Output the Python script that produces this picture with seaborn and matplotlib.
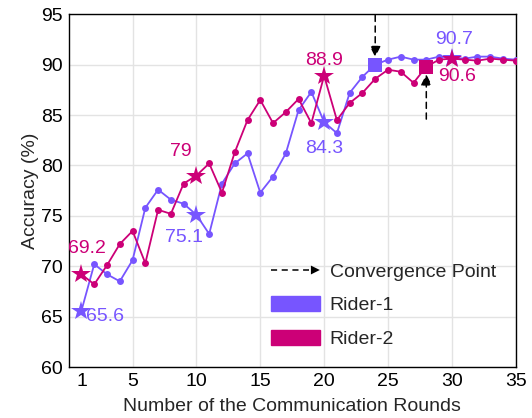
import numpy as np
import pandas as pd
import matplotlib
matplotlib.use("Agg")
import matplotlib.pyplot as plt
import seaborn as sns
from matplotlib.patches import Patch, FancyArrowPatch
from matplotlib.lines import Line2D
from matplotlib.legend_handler import HandlerBase

# Accuracy per communication round
rounds = list(range(1, 36))
rider1 = [65.6, 70.2, 69.2, 68.5, 70.6, 75.8, 77.6, 76.6, 76.2, 75.1,
          73.2, 78.2, 80.2, 81.2, 77.3, 78.9, 81.2, 85.5, 87.3, 84.3,
          83.2, 87.2, 88.8, 90.0, 90.5, 90.8, 90.5, 90.5, 90.8, 90.7,
          90.6, 90.8, 90.8, 90.6, 90.5]
rider2 = [69.2, 68.2, 70.1, 72.2, 73.5, 70.3, 75.6, 75.2, 78.2, 79.0,
          80.2, 77.3, 81.3, 84.5, 86.5, 84.2, 85.3, 86.6, 84.2, 88.9,
          84.5, 86.2, 87.2, 88.6, 89.5, 89.3, 88.2, 89.8, 90.5, 90.6,
          90.5, 90.4, 90.6, 90.5, 90.4]
series_names = ["Rider-1", "Rider-2"]
highlight_rounds = [1, 10, 20, 30]
convergence_rounds = [24, 28]
xtick_values = [1, 5, 10, 15, 20, 25, 30, 35]
ytick_values = [60, 65, 70, 75, 80, 85, 90, 95]

PURPLE = "#7755FF"
MAGENTA = "#CC0077"
palette = {"Rider-1": PURPLE, "Rider-2": MAGENTA}

sns.set_style("white")
plt.rcParams["font.family"] = ["Liberation Sans", "DejaVu Sans"]

df = pd.DataFrame({
    "round": rounds * 2,
    "acc": rider1 + rider2,
    "rider": [series_names[0]] * len(rounds) + [series_names[1]] * len(rounds),
})

fig = plt.figure(figsize=(5.32, 4.18), dpi=100)
ax = fig.add_axes([68.7 / 532, 1 - 367 / 418, (515.7 - 68.7) / 532, (367 - 14.3) / 418])

sns.lineplot(data=df, x="round", y="acc", hue="rider", palette=palette,
             marker="o", markersize=5, markeredgewidth=0, linewidth=1.3,
             legend=False, ax=ax, zorder=3)

# Star markers at highlighted rounds, squares at convergence rounds
for name, vals in zip(series_names, [rider1, rider2]):
    hx = highlight_rounds
    hy = [vals[r - 1] for r in hx]
    ax.plot(hx, hy, linestyle="none", marker="*", markersize=15,
            color=palette[name], markeredgewidth=0, zorder=4)
    cx = convergence_rounds[series_names.index(name)]
    ax.plot([cx], [vals[cx - 1]], linestyle="none", marker="s", markersize=9.5,
            color=palette[name], markeredgewidth=0, zorder=4)

# Value labels
labels = [
    (series_names[0], 1, 2.85, 65.0),
    (series_names[1], 1, 1.45, 71.75),
    (series_names[1], 10, 8.75, 81.4),
    (series_names[0], 10, 9.0, 72.85),
    (series_names[1], 20, 20.0, 90.45),
    (series_names[0], 20, 20.0, 81.7),
    (series_names[0], 30, 30.2, 92.45),
    (series_names[1], 30, 30.4, 88.8),
]
for name, r, tx, ty in labels:
    vals = rider1 if name == series_names[0] else rider2
    v = vals[r - 1]
    ax.text(tx, ty, f"{v:g}", color=palette[name], fontsize=14,
            ha="center", va="center", zorder=5)

# Convergence arrows
arrow_kw = dict(arrowstyle="-|>", color="black", lw=1.1, linestyle=(0, (4, 3)),
                mutation_scale=16, shrinkA=0, shrinkB=0)
ax.annotate("", xy=(24, 90.75), xytext=(24, 94.9), arrowprops=arrow_kw, zorder=6)
ax.annotate("", xy=(28, 89.05), xytext=(28, 84.6), arrowprops=arrow_kw, zorder=6)

ax.set_xlim(0, 35)
ax.set_ylim(60, 95)
ax.set_xticks(xtick_values)
ax.set_yticks(ytick_values)
ax.tick_params(axis="both", length=0, labelsize=14, pad=4, colors="black")
ax.grid(True, color="#e3e3e3", linewidth=1.0)
ax.set_axisbelow(True)
ax.xaxis.get_gridlines()[0].set_visible(False)
for s in ax.spines.values():
    s.set_color("black")
    s.set_linewidth(1.0)
ax.set_xlabel("Number of the Communication Rounds", fontsize=14, labelpad=6)
ax.set_ylabel("Accuracy (%)", fontsize=14, labelpad=2)


class ArrowHandler(HandlerBase):
    def create_artists(self, legend, orig_handle, xdescent, ydescent,
                       width, height, fontsize, trans):
        y = height / 2 - ydescent
        line = Line2D([-xdescent, width - xdescent - 8], [y, y], color="black",
                      lw=1.1, linestyle=(0, (4, 3)), transform=trans)
        head = FancyArrowPatch((width - xdescent - 10, y), (width - xdescent, y),
                               arrowstyle="-|>", mutation_scale=16, color="black",
                               lw=0, shrinkA=0, shrinkB=0, transform=trans)
        return [line, head]


conv_handle = Line2D([], [], color="black")
handles = [conv_handle, Patch(color=PURPLE), Patch(color=MAGENTA)]
leg = ax.legend(handles, ["Convergence Point"] + series_names,
                handler_map={conv_handle: ArrowHandler()},
                loc="upper left", bbox_to_anchor=(0.453, 0.297), frameon=False,
                fontsize=14, handlelength=2.5, handleheight=0.85,
                handletextpad=0.5, labelspacing=0.78, borderpad=0, borderaxespad=0)

fig.savefig("out.png", dpi=100)
